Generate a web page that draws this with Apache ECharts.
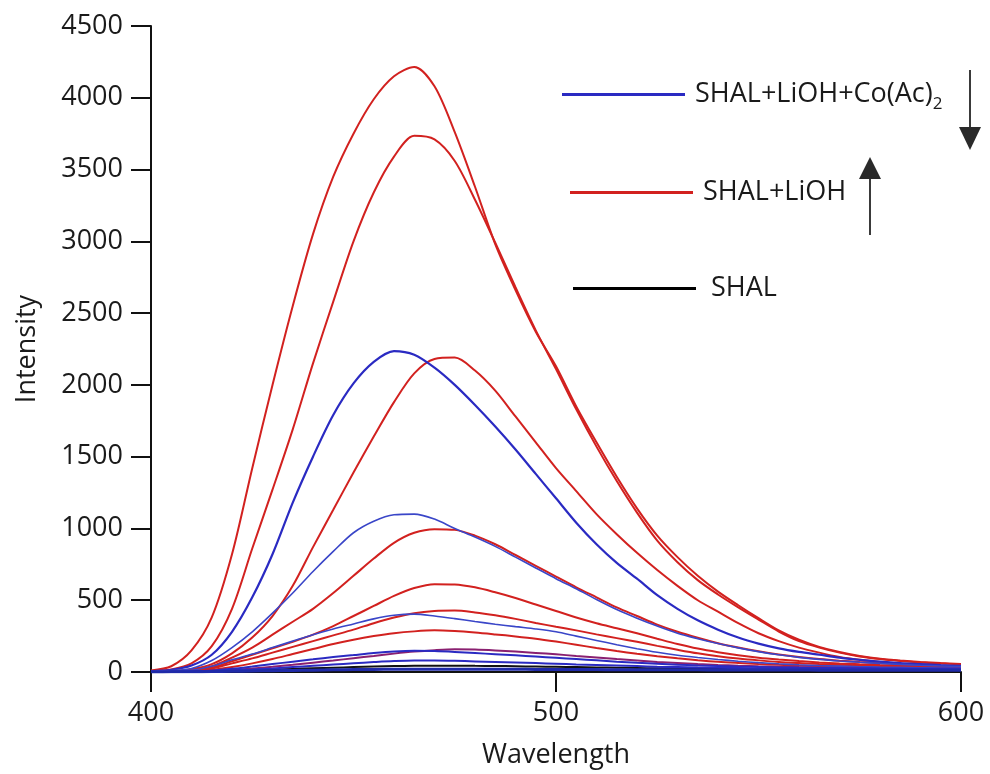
<!DOCTYPE html>
<html>
<head>
<meta charset="utf-8">
<script src="https://cdn.jsdelivr.net/npm/echarts@6/dist/echarts.min.js"></script>
<style>html,body{margin:0;padding:0;background:#fff;}#c{width:990px;height:774px;}</style>
</head>
<body>
<div id="c"></div>
<script>
// Wavelength grid (nm)
var wavelengths = [400,405,410,415,420,425,430,435,440,445,450,455,460,465,470,475,480,485,490,495,500,505,510,515,520,525,530,535,540,545,550,555,560,565,570,575,580,585,590,595,600];
var xTicks = [400, 500, 600];
var yTicks = [0,500,1000,1500,2000,2500,3000,3500,4000,4500];

// SHAL+LiOH (red) spectra
var red1 = [10,40,150,380,820,1420,2000,2550,3050,3450,3750,3990,4150,4215,4080,3760,3380,2980,2660,2370,2130,1850,1600,1360,1140,950,800,670,560,465,375,290,225,175,140,112,92,80,70,62,55];
var red2 = [5,18,60,180,440,860,1270,1690,2150,2580,3000,3340,3590,3735,3710,3560,3290,2990,2680,2380,2110,1830,1570,1330,1110,915,765,640,540,450,365,282,215,170,135,108,90,77,67,60,52];
var red3 = [3,8,20,55,130,240,390,600,870,1130,1390,1640,1880,2080,2180,2190,2100,1960,1780,1600,1420,1260,1100,960,830,710,600,500,420,340,270,215,170,135,105,85,70,58,50,44,40];
var red4 = [2,5,12,40,100,170,260,350,440,550,670,790,900,970,995,990,950,890,815,740,665,590,520,450,390,330,280,238,200,170,144,122,104,90,79,70,62,55,49,44,40];
var red5 = [2,5,10,30,75,120,165,210,260,320,390,460,530,585,612,610,590,555,515,470,425,380,340,305,270,232,195,163,138,117,100,87,76,67,60,54,49,45,41,38,35];
var red6 = [2,4,8,25,60,95,135,175,215,255,295,340,380,410,425,428,415,395,370,342,315,290,262,236,210,182,155,130,110,94,81,70,62,55,50,46,42,39,36,34,32];
var red7 = [1,3,6,15,35,60,90,125,160,195,225,250,270,283,290,285,275,262,248,232,212,190,167,146,127,110,95,82,71,63,56,50,45,41,38,35,33,31,29,27,25];
var red8 = [0,1,3,7,14,24,36,50,65,80,96,112,128,142,152,158,156,150,142,133,123,112,101,90,80,70,62,55,49,44,40,37,34,32,30,28,27,26,25,24,24];

// SHAL+LiOH+Co(Ac)2 (blue) spectra
var blue1 = [5,15,45,120,280,520,820,1180,1500,1790,2010,2160,2235,2210,2120,2000,1860,1710,1550,1380,1210,1040,890,760,650,535,440,360,295,240,198,165,140,120,100,85,72,62,55,48,42];
var blue2 = [3,10,25,80,170,280,410,550,700,840,970,1050,1095,1100,1065,1000,940,875,800,725,650,580,505,435,375,320,270,232,198,168,142,120,102,88,77,68,60,53,47,42,38];
var blue3 = [2,5,12,40,85,125,170,215,260,300,335,370,395,403,390,372,352,333,316,300,280,250,220,190,162,137,117,101,87,75,65,57,50,45,41,37,34,32,30,28,26];
var blue4 = [0,1,4,10,22,38,55,72,88,104,118,132,143,148,146,140,132,124,116,108,99,90,81,72,64,57,51,46,42,38,35,32,30,28,27,26,25,24,23,22,22];
var blue5 = [0,1,2,5,10,17,25,34,43,52,61,69,76,80,80,78,74,70,66,62,58,53,49,45,41,37,34,31,29,27,25,24,23,22,21,20,20,19,19,18,18];
var blue6 = [0,1,2,3,5,7,9,11,13,15,17,18,19,20,20,20,20,19,19,18,18,17,17,16,16,15,15,15,14,14,14,14,14,13,13,13,13,13,13,13,13];

// SHAL (black)
var shal = [0,1,2,4,7,11,16,21,26,30,34,38,41,43,44,44,43,42,40,38,36,34,32,30,28,26,25,24,23,22,21,20,20,19,19,18,18,18,17,17,17];

var NAME_R = 'SHAL+LiOH', NAME_B = 'SHAL+LiOH+Co(Ac)2', NAME_K = 'SHAL';
var RED = '#d2211f', BLUE = '#2a2ac2', BLACK = '#111111';
var FONT = 'Open Sans';

function pairs(vals){ return wavelengths.map(function(w,i){ return [w, vals[i]]; }); }
function mk(name, vals, color, width){
  return { name: name, type: 'line', data: pairs(vals), smooth: 0.3,
           showSymbol: false, symbol: 'none', animation: false,
           lineStyle: { color: color, width: width }, itemStyle: { color: color } };
}

var series = [
  mk(NAME_R, red1, RED, 2), mk(NAME_R, red2, RED, 2), mk(NAME_R, red3, RED, 2),
  mk(NAME_R, red4, RED, 2), mk(NAME_R, red5, RED, 2), mk(NAME_R, red6, RED, 2),
  mk(NAME_R, red7, RED, 2), mk(NAME_R, red8, '#8a2070', 2),
  mk(NAME_K, shal, BLACK, 2),
  mk(NAME_B, blue1, BLUE, 2.2), mk(NAME_B, blue2, '#3a46c8', 1.6), mk(NAME_B, blue3, '#3a46c8', 1.6),
  mk(NAME_B, blue4, BLUE, 2), mk(NAME_B, blue5, BLUE, 2), mk(NAME_B, blue6, '#1f2aa8', 3)
];
series[8].itemStyle.color = '#000000';

function legendBox(name, left, top, pad){
  return {
    data: [name], left: left, top: top, itemWidth: 123, itemHeight: 3, icon: 'rect',
    selectedMode: false, padding: 0,
    formatter: function(n){ return n === NAME_B ? '{a|SHAL+LiOH+Co(Ac)}{s|2}' : '{a|' + n + '}'; },
    textStyle: {
      color: '#1a1a1a', fontFamily: FONT, fontSize: 27, padding: [0,0,0,pad],
      rich: {
        a: { fontFamily: FONT, fontSize: 27, color: '#1a1a1a', lineHeight: 36, verticalAlign: 'middle' },
        s: { fontFamily: FONT, fontSize: 17, color: '#1a1a1a', lineHeight: 36, verticalAlign: 'bottom' }
      }
    }
  };
}

var chart = echarts.init(document.getElementById('c'), null, { renderer: 'canvas' });
chart.setOption({
  animation: false,
  backgroundColor: '#ffffff',
  grid: { left: 151, right: 29, top: 26, bottom: 101, containLabel: false },
  xAxis: {
    type: 'value', min: 400, max: 600, interval: 100,
    name: 'Wavelength', nameLocation: 'middle', nameGap: 70,
    nameTextStyle: { fontFamily: FONT, fontSize: 27, color: '#1a1a1a' },
    axisLine: { show: true, onZero: false, lineStyle: { color: '#111', width: 2 } },
    axisTick: { show: true, inside: false, length: 20, lineStyle: { color: '#111', width: 2 } },
    axisLabel: { margin: 28, fontFamily: FONT, fontSize: 27, color: '#1a1a1a',
      formatter: function(v){ return xTicks.indexOf(v) >= 0 ? String(v) : ''; } },
    splitLine: { show: false }
  },
  yAxis: {
    type: 'value', min: 0, max: 4500, interval: 500,
    name: 'Intensity', nameLocation: 'middle', nameGap: 110, nameRotate: 90,
    nameTextStyle: { fontFamily: FONT, fontSize: 27, color: '#1a1a1a' },
    axisLine: { show: true, lineStyle: { color: '#111', width: 2 } },
    axisTick: { show: true, inside: false, length: 20, lineStyle: { color: '#111', width: 2 } },
    axisLabel: { margin: 28, fontFamily: FONT, fontSize: 27, color: '#1a1a1a',
      formatter: function(v){ return yTicks.indexOf(v) >= 0 ? String(v) : ''; } },
    splitLine: { show: false }
  },
  legend: [
    legendBox(NAME_B, 562, 81, 5),
    legendBox(NAME_R, 570, 179, 5),
    legendBox(NAME_K, 573, 275, 10)
  ],
  graphic: [
    { type: 'line', shape: { x1: 970, y1: 70, x2: 970, y2: 132 }, style: { stroke: '#3a3a3a', lineWidth: 2 } },
    { type: 'polygon', shape: { points: [[959,127],[981,127],[970,150]] }, style: { fill: '#2a2a2a' } },
    { type: 'line', shape: { x1: 870, y1: 235, x2: 870, y2: 175 }, style: { stroke: '#3a3a3a', lineWidth: 2 } },
    { type: 'polygon', shape: { points: [[859,179],[881,179],[870,157]] }, style: { fill: '#2a2a2a' } }
  ],
  series: series
});
</script>
</body>
</html>
